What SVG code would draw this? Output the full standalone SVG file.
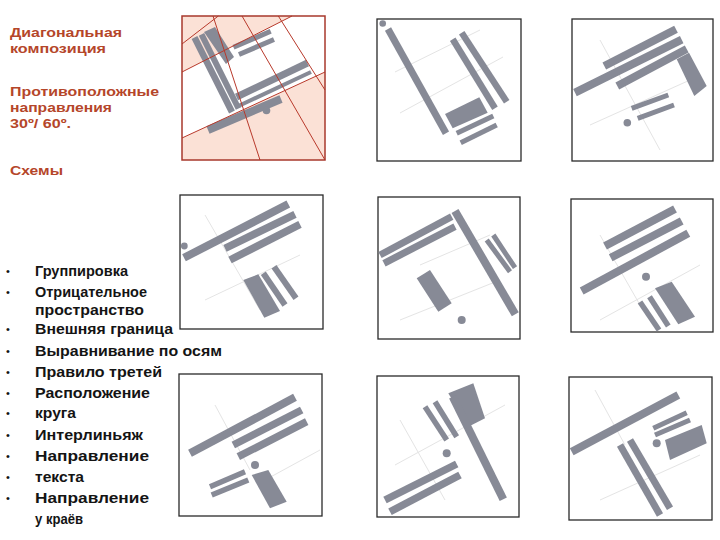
<svg xmlns="http://www.w3.org/2000/svg" width="720" height="540" viewBox="0 0 720 540">
<style>
.bar{stroke:#878a96;stroke-linecap:butt;fill:none}
.blk{fill:#878a96}
.dot{fill:#878a96}
.frame{fill:#fff;stroke:#2a2a2a;stroke-width:1.3}
.guide{stroke:#e4e4e4;stroke-width:1;fill:none}
.red{stroke:#b8392b;stroke-width:1;fill:none}
.pink{fill:#fbe1d6}
.ttl{font-family:"Liberation Sans",Arial,sans-serif;font-weight:bold;font-size:13.5px;fill:#b5462a}
.lst{font-family:"Liberation Sans",Arial,sans-serif;font-weight:bold;font-size:14px;fill:#141414}
.bul{font-family:"Liberation Sans",Arial,sans-serif;font-size:11px;fill:#141414}
</style>
<rect width="720" height="540" fill="#fff"/>

<g id="title">
<text class="ttl" x="10" y="37" textLength="112" lengthAdjust="spacingAndGlyphs">Диагональная</text>
<text class="ttl" x="10" y="53" textLength="96" lengthAdjust="spacingAndGlyphs">композиция</text>
<text class="ttl" x="10" y="96" textLength="149" lengthAdjust="spacingAndGlyphs">Противоположные</text>
<text class="ttl" x="10" y="112" textLength="102" lengthAdjust="spacingAndGlyphs">направления</text>
<text class="ttl" x="10" y="128" textLength="61" lengthAdjust="spacingAndGlyphs">30º/ 60º.</text>
<text class="ttl" x="10" y="175" textLength="53" lengthAdjust="spacingAndGlyphs">Схемы</text>
</g>

<g id="list">
<text class="bul" x="6" y="275">•</text><text class="lst" x="35" y="276" textLength="93" lengthAdjust="spacingAndGlyphs">Группировка</text>
<text class="bul" x="6" y="296">•</text><text class="lst" x="35" y="297" textLength="112" lengthAdjust="spacingAndGlyphs">Отрицательное</text>
<text class="lst" x="35" y="315" textLength="109" lengthAdjust="spacingAndGlyphs">пространство</text>
<text class="bul" x="6" y="333">•</text><text class="lst" x="35" y="334" textLength="138" lengthAdjust="spacingAndGlyphs">Внешняя граница</text>
<text class="bul" x="6" y="355">•</text><text class="lst" x="35" y="356" textLength="187" lengthAdjust="spacingAndGlyphs">Выравнивание по осям</text>
<text class="bul" x="6" y="376">•</text><text class="lst" x="35" y="377" textLength="127" lengthAdjust="spacingAndGlyphs">Правило третей</text>
<text class="bul" x="6" y="397">•</text><text class="lst" x="35" y="398" textLength="115" lengthAdjust="spacingAndGlyphs">Расположение</text>
<text class="bul" x="6" y="417">•</text><text class="lst" x="35" y="418" textLength="41" lengthAdjust="spacingAndGlyphs">круга</text>
<text class="bul" x="6" y="439">•</text><text class="lst" x="35" y="440" textLength="108" lengthAdjust="spacingAndGlyphs">Интерлиньяж</text>
<text class="bul" x="6" y="460">•</text><text class="lst" x="35" y="461" textLength="114" lengthAdjust="spacingAndGlyphs">Направление</text>
<text class="bul" x="6" y="481">•</text><text class="lst" x="35" y="482" textLength="49" lengthAdjust="spacingAndGlyphs">текста</text>
<text class="bul" x="6" y="502">•</text><text class="lst" x="35" y="503" textLength="114" lengthAdjust="spacingAndGlyphs">Направление</text>
<text class="lst" x="35" y="524" textLength="48" lengthAdjust="spacingAndGlyphs">у краёв</text>
</g>

<!-- Panel 1 -->
<g id="panel1">
<rect x="182" y="16" width="143" height="144" fill="#fff"/>
<polygon class="pink" points="182,16 292,16 182,72"/>
<polygon class="pink" points="182,138 325,72 325,160 182,160"/>
<line class="bar" x1="194.5" y1="37.5" x2="232" y2="112" stroke-width="6.5"/>
<line class="bar" x1="201.5" y1="34.3" x2="238.5" y2="108.5" stroke-width="6"/>
<polygon class="blk" points="204,32 215,27 234,57 226,64"/>
<line class="bar" x1="233.5" y1="47.3" x2="270.7" y2="31.3" stroke-width="5"/>
<line class="bar" x1="239" y1="54.5" x2="274" y2="39.5" stroke-width="5"/>
<line class="bar" x1="236.5" y1="97" x2="307.5" y2="63" stroke-width="7"/>
<line class="bar" x1="239.5" y1="105.5" x2="311" y2="72" stroke-width="4"/>
<line class="bar" x1="208" y1="130" x2="281" y2="99" stroke-width="8"/>
<circle class="dot" cx="266.5" cy="110.5" r="3.8"/>
<g class="red">
<line x1="213" y1="16" x2="260" y2="160"/>
<line x1="242" y1="16" x2="325" y2="160"/>
<line x1="278.3" y1="16" x2="325" y2="90"/>
<line x1="182" y1="44" x2="218.3" y2="16"/>
<line x1="182" y1="138" x2="325" y2="72"/>
<line x1="182" y1="72" x2="292" y2="16"/>
</g>
<rect x="182" y="16" width="143" height="144" fill="none" stroke="#a8382c" stroke-width="1.5"/>
</g>

<!-- Panel 2 -->
<g id="panel2">
<rect class="frame" x="377" y="19" width="144" height="142"/>
<line class="guide" x1="400" y1="113" x2="503" y2="57"/>
<line class="guide" x1="395" y1="72" x2="480" y2="30"/>
<circle class="dot" cx="382.7" cy="23.5" r="3.3"/>
<line class="bar" x1="388" y1="29" x2="446" y2="133.3" stroke-width="7"/>
<line class="bar" x1="452.7" y1="39.3" x2="495" y2="108.3" stroke-width="6.5"/>
<line class="bar" x1="461.7" y1="32.7" x2="506.7" y2="101.7" stroke-width="6.5"/>
<polygon class="blk" points="445,114 479.3,97.3 487.7,112.7 452.7,128.3"/>
<line class="bar" x1="456.7" y1="133.3" x2="493.3" y2="116" stroke-width="5"/>
<line class="bar" x1="460.7" y1="142.7" x2="496.7" y2="125" stroke-width="5"/>
</g>

<!-- Panel 3 -->
<g id="panel3">
<rect class="frame" x="572" y="19" width="141" height="142"/>
<line class="guide" x1="590" y1="125" x2="690" y2="80"/>
<line class="guide" x1="600" y1="40" x2="660" y2="150"/>
<line class="bar" x1="604.3" y1="66" x2="676" y2="29.3" stroke-width="8"/>
<line class="bar" x1="575" y1="92.7" x2="681.7" y2="39.7" stroke-width="8"/>
<line class="bar" x1="617.3" y1="86" x2="686.7" y2="49" stroke-width="8"/>
<polygon class="blk" points="676.7,59.3 689,52.7 706.7,86 694.3,96"/>
<line class="bar" x1="631.7" y1="108.3" x2="668.3" y2="95" stroke-width="5"/>
<line class="bar" x1="637.7" y1="118.3" x2="674" y2="105" stroke-width="5"/>
<circle class="dot" cx="627.3" cy="122.7" r="3.8"/>
</g>

<!-- Panel 4 -->
<g id="panel4">
<rect class="frame" x="180" y="195" width="143" height="134"/>
<line class="guide" x1="205" y1="300" x2="300" y2="255"/>
<line class="guide" x1="205" y1="215" x2="260" y2="310"/>
<circle class="dot" cx="184.3" cy="246" r="3.4"/>
<line class="bar" x1="184" y1="257.7" x2="288.3" y2="204" stroke-width="8"/>
<line class="bar" x1="225" y1="248.3" x2="295" y2="214.3" stroke-width="7.5"/>
<line class="bar" x1="230" y1="260" x2="300" y2="224.3" stroke-width="7.5"/>
<polygon class="blk" points="243.3,280 258.3,274.3 280,311 264.3,317.7"/>
<line class="bar" x1="263.3" y1="273.3" x2="285" y2="305" stroke-width="6"/>
<line class="bar" x1="274" y1="266.7" x2="296" y2="298.3" stroke-width="6"/>
</g>

<!-- Panel 5 -->
<g id="panel5">
<rect class="frame" x="378" y="197" width="142" height="142"/>
<line class="guide" x1="400" y1="320" x2="500" y2="280"/>
<line class="guide" x1="420" y1="265" x2="490" y2="235"/>
<line class="bar" x1="380" y1="255" x2="451.7" y2="216.7" stroke-width="7"/>
<line class="bar" x1="384" y1="263.3" x2="455" y2="226.7" stroke-width="7"/>
<line class="bar" x1="455" y1="211" x2="515.3" y2="314.3" stroke-width="8"/>
<line class="bar" x1="486.7" y1="240" x2="510" y2="271.7" stroke-width="5"/>
<line class="bar" x1="493.3" y1="235" x2="515" y2="267.7" stroke-width="5"/>
<polygon class="blk" points="416.7,278.3 430,270 451.7,303.3 438.3,311.7"/>
<circle class="dot" cx="461.7" cy="320" r="4"/>
</g>

<!-- Panel 6 -->
<g id="panel6">
<rect class="frame" x="571" y="199" width="142" height="133"/>
<line class="guide" x1="600" y1="320" x2="700" y2="265"/>
<line class="guide" x1="600" y1="235" x2="640" y2="305"/>
<line class="bar" x1="605" y1="246" x2="675" y2="209" stroke-width="8"/>
<line class="bar" x1="610.7" y1="257.7" x2="681.7" y2="221" stroke-width="8"/>
<line class="bar" x1="581.7" y1="291" x2="688.3" y2="233.3" stroke-width="8"/>
<circle class="dot" cx="646" cy="276.7" r="4"/>
<polygon class="blk" points="655,288.3 671.7,281.7 695,316.7 678.3,324.3"/>
<line class="bar" x1="640" y1="302" x2="659" y2="330" stroke-width="5.5"/>
<line class="bar" x1="649.5" y1="296.7" x2="668.3" y2="326" stroke-width="5.5"/>
</g>

<!-- Panel 7 -->
<g id="panel7">
<rect class="frame" x="179" y="374" width="143" height="142"/>
<line class="guide" x1="215" y1="405" x2="250" y2="470"/>
<line class="guide" x1="265" y1="480" x2="320" y2="450"/>
<line class="bar" x1="190" y1="453.3" x2="295" y2="397.3" stroke-width="8"/>
<line class="bar" x1="233.3" y1="445" x2="301.7" y2="410" stroke-width="7.5"/>
<line class="bar" x1="238.3" y1="456.7" x2="306.7" y2="421.7" stroke-width="7.5"/>
<circle class="dot" cx="255" cy="465" r="4"/>
<polygon class="blk" points="251.7,475 268.3,470 286.7,501.7 270,508.3"/>
<line class="bar" x1="210" y1="486.7" x2="245" y2="471.7" stroke-width="5.5"/>
<line class="bar" x1="211.7" y1="495" x2="248.3" y2="480" stroke-width="5.5"/>
</g>

<!-- Panel 8 -->
<g id="panel8">
<rect class="frame" x="377" y="376" width="142" height="141"/>
<line class="guide" x1="395" y1="465" x2="505" y2="405"/>
<line class="guide" x1="400" y1="420" x2="445" y2="500"/>
<polygon class="blk" points="448.3,393.3 473.3,383.3 485,418.3 468.3,426.7"/>
<line class="bar" x1="425" y1="406.7" x2="446.7" y2="440" stroke-width="5.5"/>
<line class="bar" x1="435" y1="401.7" x2="456.7" y2="436.7" stroke-width="5.5"/>
<line class="bar" x1="452.7" y1="396.7" x2="503.3" y2="499.3" stroke-width="8"/>
<circle class="dot" cx="446.7" cy="453.3" r="4"/>
<line class="bar" x1="385" y1="500" x2="456.7" y2="464" stroke-width="7.5"/>
<line class="bar" x1="390" y1="511.7" x2="460" y2="475" stroke-width="7.5"/>
</g>

<!-- Panel 9 -->
<g id="panel9">
<rect class="frame" x="569" y="377" width="143" height="143"/>
<line class="guide" x1="600" y1="500" x2="700" y2="455"/>
<line class="guide" x1="595" y1="390" x2="625" y2="445"/>
<line class="bar" x1="571.7" y1="451.7" x2="678.3" y2="395" stroke-width="8"/>
<line class="bar" x1="653.3" y1="428.3" x2="686.7" y2="412.7" stroke-width="5"/>
<line class="bar" x1="655" y1="435" x2="690" y2="420" stroke-width="5"/>
<polygon class="blk" points="665,440 701.7,425 706.7,443.3 670,460"/>
<circle class="dot" cx="656.7" cy="443.3" r="4"/>
<line class="bar" x1="620" y1="445" x2="660" y2="515" stroke-width="7"/>
<line class="bar" x1="630" y1="440" x2="670" y2="508.3" stroke-width="7"/>
</g>
</svg>
